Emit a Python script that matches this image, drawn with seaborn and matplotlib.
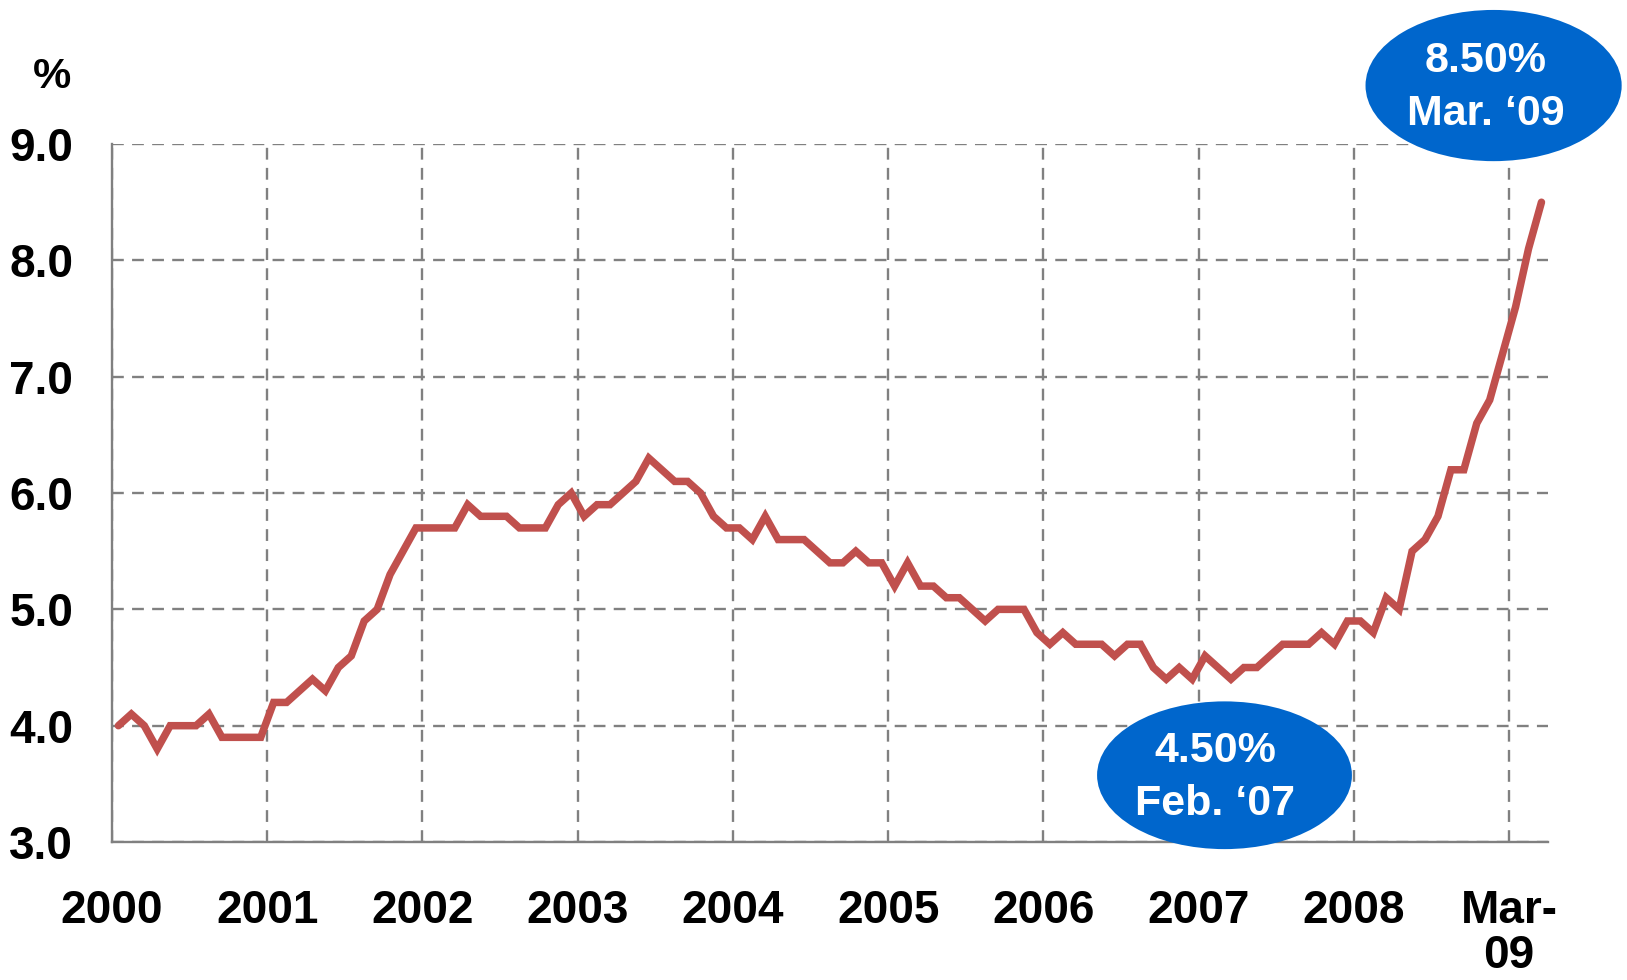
import pandas as pd
import seaborn as sns
import matplotlib.pyplot as plt
from matplotlib.patches import Ellipse

# monthly unemployment rate (%), Jan 2000 - Mar 2009
rate_2000 = [4.0, 4.1, 4.0, 3.8, 4.0, 4.0, 4.0, 4.1, 3.9, 3.9, 3.9, 3.9]
rate_2001 = [4.2, 4.2, 4.3, 4.4, 4.3, 4.5, 4.6, 4.9, 5.0, 5.3, 5.5, 5.7]
rate_2002 = [5.7, 5.7, 5.7, 5.9, 5.8, 5.8, 5.8, 5.7, 5.7, 5.7, 5.9, 6.0]
rate_2003 = [5.8, 5.9, 5.9, 6.0, 6.1, 6.3, 6.2, 6.1, 6.1, 6.0, 5.8, 5.7]
rate_2004 = [5.7, 5.6, 5.8, 5.6, 5.6, 5.6, 5.5, 5.4, 5.4, 5.5, 5.4, 5.4]
rate_2005 = [5.2, 5.4, 5.2, 5.2, 5.1, 5.1, 5.0, 4.9, 5.0, 5.0, 5.0, 4.8]
rate_2006 = [4.7, 4.8, 4.7, 4.7, 4.7, 4.6, 4.7, 4.7, 4.5, 4.4, 4.5, 4.4]
rate_2007 = [4.6, 4.5, 4.4, 4.5, 4.5, 4.6, 4.7, 4.7, 4.7, 4.8, 4.7, 4.9]
rate_2008 = [4.9, 4.8, 5.1, 5.0, 5.5, 5.6, 5.8, 6.2, 6.2, 6.6, 6.8, 7.2]
rate_2009 = [7.6, 8.1, 8.5]

tick_labels = ['2000', '2001', '2002', '2003', '2004', '2005', '2006', '2007', '2008', 'Mar-\n09']
y_ticks = [3.0, 4.0, 5.0, 6.0, 7.0, 8.0, 9.0]

callouts = ['8.50%\nMar. \u201809', '4.50%\nFeb. \u201807']

rates = (rate_2000 + rate_2001 + rate_2002 + rate_2003 + rate_2004 +
         rate_2005 + rate_2006 + rate_2007 + rate_2008 + rate_2009)
df = pd.DataFrame({'month': range(len(rates)), 'rate': rates})

sns.set_style('white')
plt.rcParams['font.family'] = ['Liberation Sans', 'DejaVu Sans']
plt.rcParams['font.weight'] = 'bold'
plt.rcParams['text.color'] = 'black'
plt.rcParams['xtick.color'] = 'black'
plt.rcParams['ytick.color'] = 'black'

GREY = '#808080'
BLUE = '#0066CC'

fig = plt.figure(figsize=(16.27, 9.8), dpi=100)
ax = fig.add_axes([0.0688, 0.1408, 0.8826, 0.7122])

sns.lineplot(data=df, x='month', y='rate', color='#C0504D', linewidth=5.4, ax=ax,
             solid_joinstyle='miter', zorder=3)

ax.set_xlim(-0.5, len(rates) - 0.5)
ax.set_ylim(3.0, 9.0)
ax.set_xticks([12 * k - 0.5 for k in range(len(tick_labels))])
ax.set_xticklabels(tick_labels, fontsize=33, fontweight='bold', linespacing=1.02)
ax.set_yticks(y_ticks)
ax.set_yticklabels([f'{v:.1f}' for v in y_ticks], fontsize=33, fontweight='bold')
ax.set_xlabel('')
ax.set_ylabel('')

ax.grid(True, color=GREY, linewidth=1.7, linestyle=(0, (5, 3.5)))
for side in ['top', 'right']:
    ax.spines[side].set_visible(False)
for side in ['left', 'bottom']:
    ax.spines[side].set_color(GREY)
    ax.spines[side].set_linewidth(1.7)
ax.tick_params(axis='both', direction='out', length=10, width=1.7, color=GREY,
               labelcolor='black')
ax.tick_params(axis='x', pad=24)
ax.tick_params(axis='y', pad=18)

fig.text(52 / 1627, 1 - 77 / 980, '%', fontsize=31, fontweight='bold', ha='center', va='center')

# callout ellipses
ax.add_patch(Ellipse((106.3, 9.503), 19.8, 1.30, facecolor=BLUE, edgecolor='none',
                     clip_on=False, zorder=5))
ax.text(105.7, 9.487, callouts[0], color='white', fontsize=31, fontweight='bold',
        ha='center', va='center', linespacing=1.42, zorder=6, clip_on=False)
ax.add_patch(Ellipse((85.5, 3.574), 19.7, 1.27, facecolor=BLUE, edgecolor='none',
                     clip_on=False, zorder=5))
ax.text(84.8, 3.557, callouts[1], color='white', fontsize=31, fontweight='bold',
        ha='center', va='center', linespacing=1.42, zorder=6, clip_on=False)

fig.savefig('out.png', dpi=100)
